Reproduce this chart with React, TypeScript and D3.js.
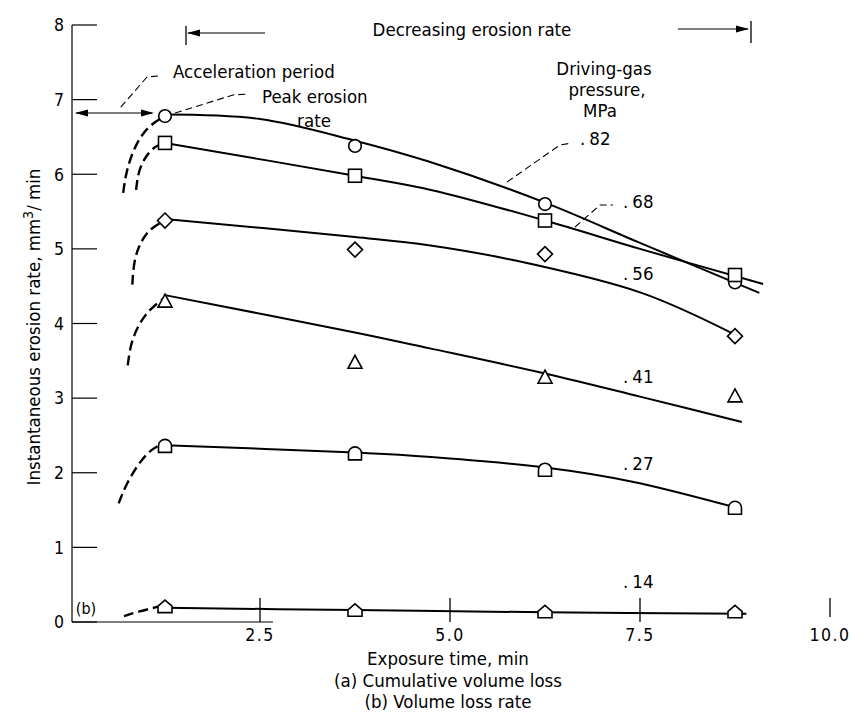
import React from 'react';
import * as d3 from 'd3';

// exposure time (min) of the measured points
const times = [1.25, 3.75, 6.25, 8.75];

// measured erosion rates, mm3/min, per driving-gas pressure
const p82 = [6.78, 6.38, 5.6, 4.55];
const p68 = [6.42, 5.98, 5.38, 4.65];
const p56 = [5.38, 4.99, 4.93, 3.83];
const p41 = [4.3, 3.48, 3.28, 3.03];
const p27 = [2.36, 2.26, 2.04, 1.53];
const p14 = [0.2, 0.15, 0.13, 0.13];

// faired curves (time, rate)
const fit82 = [[1.25, 6.8], [2.5, 6.74], [3.75, 6.45], [4.72, 6.17], [6.25, 5.62], [7.5, 5.08], [9.07, 4.41]];
const fit68 = [[1.25, 6.42], [3.75, 5.98], [4.75, 5.79], [6.25, 5.38], [7.5, 5.0], [9.12, 4.53]];
const fit56 = [[1.25, 5.4], [3.75, 5.16], [4.72, 5.05], [5.83, 4.85], [7.52, 4.41], [8.75, 3.85]];
const fit41 = [[1.25, 4.38], [3.75, 3.88], [4.72, 3.67], [6.25, 3.33], [7.5, 3.02], [8.84, 2.68]];
const fit27 = [[1.25, 2.37], [3.75, 2.27], [4.33, 2.24], [6.25, 2.07], [7.4, 1.88], [8.7, 1.55]];
const fit14 = [[1.25, 0.19], [3.75, 0.16], [6.25, 0.13], [8.9, 0.11]];

// dashed acceleration-period curves
const acc82 = [[0.7, 5.75], [0.74, 6.05], [0.86, 6.4], [1.03, 6.65], [1.25, 6.78]];
const acc68 = [[0.87, 5.79], [0.9, 6.05], [1.0, 6.25], [1.12, 6.38], [1.25, 6.42]];
const acc56 = [[0.82, 4.52], [0.84, 4.85], [0.93, 5.1], [1.06, 5.28], [1.25, 5.38]];
const acc41 = [[0.76, 3.44], [0.8, 3.75], [0.92, 4.02], [1.06, 4.2], [1.25, 4.35]];
const acc27 = [[0.64, 1.59], [0.74, 1.85], [0.9, 2.12], [1.05, 2.3], [1.2, 2.38]];
const acc14 = [[0.71, 0.08], [0.9, 0.14], [1.18, 0.21]];

const pressures = ['82', '68', '56', '41', '27', '14'];
const yTicks = [0, 1, 2, 3, 4, 5, 6, 7, 8];
const xTicks = [2.5, 5.0, 7.5, 10.0];
const xTickLabels = ['2.5', '5.0', '7.5', '10.0'];

const font = '"DejaVu Sans Condensed", "Liberation Sans Narrow", "DejaVu Sans", sans-serif';

const x = d3.scaleLinear().domain([0, 10]).range([70, 830]);
const y = d3.scaleLinear().domain([0, 8]).range([622, 25]);

const line = d3.line<number[]>()
  .x(d => x(d[0]))
  .y(d => y(d[1]))
  .curve(d3.curveCatmullRom.alpha(0.5));

const dashLine = d3.line<number[]>()
  .x(d => x(d[0]))
  .y(d => y(d[1]))
  .curve(d3.curveBasis);

function Marker({ kind, cx, cy }: { kind: string; cx: number; cy: number }) {
  const st = { fill: 'white', stroke: 'black', strokeWidth: 1.6 };
  if (kind === 'circle') return <circle cx={cx} cy={cy} r={6.3} {...st} />;
  if (kind === 'square') return <rect x={cx - 6.5} y={cy - 6.5} width={13} height={13} {...st} />;
  if (kind === 'diamond')
    return <path d={`M${cx},${cy - 7.5}L${cx + 7.5},${cy}L${cx},${cy + 7.5}L${cx - 7.5},${cy}Z`} {...st} />;
  if (kind === 'triangle')
    return <path d={`M${cx},${cy - 7}L${cx + 7},${cy + 6}L${cx - 7},${cy + 6}Z`} {...st} />;
  if (kind === 'arch')
    return <path d={`M${cx - 6.5},${cy + 6.5}L${cx - 6.5},${cy}A6.5,6.5 0 0 1 ${cx + 6.5},${cy}L${cx + 6.5},${cy + 6.5}Z`} {...st} />;
  // house
  return <path d={`M${cx},${cy - 7}L${cx + 7},${cy - 1}L${cx + 7},${cy + 5.5}L${cx - 7},${cy + 5.5}L${cx - 7},${cy - 1}Z`} {...st} />;
}

export default function App() {
  const series = [
    { vals: p82, fit: fit82, acc: acc82, kind: 'circle' },
    { vals: p68, fit: fit68, acc: acc68, kind: 'square' },
    { vals: p56, fit: fit56, acc: acc56, kind: 'diamond' },
    { vals: p41, fit: fit41, acc: acc41, kind: 'triangle' },
    { vals: p27, fit: fit27, acc: acc27, kind: 'arch' },
    { vals: p14, fit: fit14, acc: acc14, kind: 'house' },
  ];
  const labelPos = [
    [580, 145], [623, 208], [623, 280], [623, 383], [623, 470], [623, 588],
  ];
  const y0 = y(0);
  const ax = x(0) + 2;

  return (
    <svg width={852} height={725} style={{ position: 'absolute', left: 0, top: 0, background: 'white' }}
      fontFamily={font} fontSize={18.5}>
      {/* y axis */}
      <line x1={ax} x2={ax} y1={y(8)} y2={y0} stroke="black" strokeWidth={1.2} />
      {yTicks.map(t => (
        <g key={t}>
          <line x1={ax} x2={ax + 25} y1={y(t)} y2={y(t)} stroke="black" strokeWidth={1.2} />
          <text x={64} y={y(t)} dy="0.36em" textAnchor="end" fontSize={17.5}>{t}</text>
        </g>
      ))}
      {/* x axis */}
      <line x1={ax} x2={273} y1={y0} y2={y0} stroke="black" strokeWidth={1} />
      {xTicks.map((t, i) => (
        <g key={t}>
          <line x1={x(t)} x2={x(t)} y1={y0 - 24} y2={t === 10 ? y0 - 5 : y0} stroke="black" strokeWidth={1.3} />
          <text x={x(t)} y={641} textAnchor="middle" fontSize={17.5} letterSpacing={1.5}>{xTickLabels[i]}</text>
        </g>
      ))}
      <text x={86} y={614} textAnchor="middle" fontSize={16}>(b)</text>

      {/* curves */}
      {series.map((s, i) => (
        <g key={i}>
          <path d={line(s.fit) || ''} fill="none" stroke="black" strokeWidth={2} />
          <path d={dashLine(s.acc) || ''} fill="none" stroke="black" strokeWidth={2.4} strokeDasharray="10 5" />
        </g>
      ))}
      {series.map((s, i) =>
        s.vals.map((v, j) => <Marker key={i + '-' + j} kind={s.kind} cx={x(times[j])} cy={y(v)} />)
      )}

      {/* pressure labels */}
      {pressures.map((p, i) => (
        <text key={p} x={labelPos[i][0]} y={labelPos[i][1]}>.<tspan dx={4}>{p}</tspan></text>
      ))}
      <path d="M507,182L560,145L572,143" fill="none" stroke="black" strokeWidth={1.1} strokeDasharray="7 4" />
      <path d="M575,227L600,205L613,205" fill="none" stroke="black" strokeWidth={1.1} strokeDasharray="7 4" />
      <text x={604} y={75} textAnchor="middle">Driving-gas</text>
      <text x={607} y={96} textAnchor="middle">pressure,</text>
      <text x={600} y={117} textAnchor="middle">MPa</text>

      {/* decreasing erosion rate */}
      <text x={472} y={36} textAnchor="middle">Decreasing erosion rate</text>
      <line x1={186} x2={186} y1={26} y2={45} stroke="black" strokeWidth={1.3} />
      <line x1={188} x2={265} y1={33} y2={33} stroke="black" strokeWidth={1.2} />
      <path d="M187,33L200,29.5L200,36.5Z" fill="black" />
      <line x1={678} x2={748} y1={29} y2={29} stroke="black" strokeWidth={1.2} />
      <path d="M749,29L736,25.5L736,32.5Z" fill="black" />
      <line x1={751} x2={751} y1={21} y2={43} stroke="black" strokeWidth={1.3} />

      {/* acceleration period */}
      <text x={173} y={78}>Acceleration period</text>
      <path d="M158,76L147,77L120,108" fill="none" stroke="black" strokeWidth={1.1} strokeDasharray="7 4" />
      <line x1={76} x2={152} y1={113} y2={113} stroke="black" strokeWidth={1.2} />
      <path d="M75,113L88,109.5L88,116.5Z" fill="black" />
      <path d="M154,113L141,109.5L141,116.5Z" fill="black" />

      {/* peak erosion rate */}
      <text x={262} y={103}>Peak erosion</text>
      <text x={314} y={127} textAnchor="middle">rate</text>
      <path d="M175,113L233,95L248,94" fill="none" stroke="black" strokeWidth={1.1} strokeDasharray="7 4" />

      {/* axis titles */}
      <text transform="translate(40,327) rotate(-90)" textAnchor="middle">
        Instantaneous erosion rate,  mm<tspan dy="-7" fontSize={14}>3</tspan><tspan dy="7">/ min</tspan>
      </text>
      <text x={448} y={665} textAnchor="middle">Exposure time, min</text>
      <text x={448} y={687} textAnchor="middle">(a)  Cumulative volume loss</text>
      <text x={448} y={708} textAnchor="middle">(b)  Volume loss rate</text>
    </svg>
  );
}
